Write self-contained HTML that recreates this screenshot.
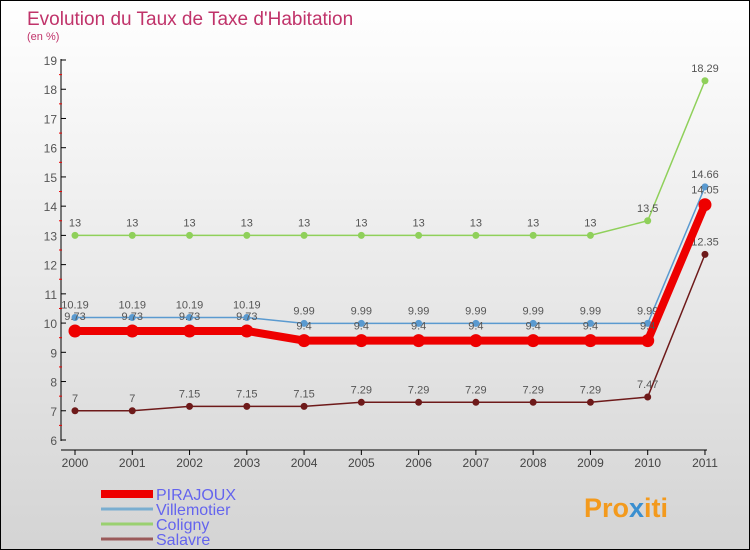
<!DOCTYPE html>
<html><head><meta charset="utf-8"><style>
body{margin:0}
#c{position:relative;width:748px;height:548px;border:1px solid #000;background:linear-gradient(#fff,#d4d4d4);font-family:"Liberation Sans",sans-serif;overflow:hidden}
</style></head><body>
<div id="c">
<svg id="s" width="748" height="548" style="position:absolute;left:0;top:0">
<text x="26" y="24" font-size="19" fill="#c0336a">Evolution du Taux de Taxe d'Habitation</text>
<text x="26" y="39" font-size="11" fill="#c0336a">(en %)</text>
<g id="g"></g>
<text x="583" y="516" font-size="27" font-weight="bold" fill="#f39a1d">Pro<tspan fill="#3a8fd0">x</tspan>iti</text>
</svg>
</div>
<script>
const years=["2000","2001","2002","2003","2004","2005","2006","2007","2008","2009","2010","2011"];
const pirajoux=[9.73,9.73,9.73,9.73,9.4,9.4,9.4,9.4,9.4,9.4,9.4,14.05];
const villemotier=[10.19,10.19,10.19,10.19,9.99,9.99,9.99,9.99,9.99,9.99,9.99,14.66];
const coligny=[13,13,13,13,13,13,13,13,13,13,13.5,18.29];
const salavre=[7,7,7.15,7.15,7.15,7.29,7.29,7.29,7.29,7.29,7.47,12.35];
const yTicks=[6,7,8,9,10,11,12,13,14,15,16,17,18,19];
const NS="http://www.w3.org/2000/svg",g=document.getElementById('g');
const X=i=>74+i*57.27, Y=v=>439-(v-6)*29.23;
function el(t,a){const e=document.createElementNS(NS,t);for(const k in a)e.setAttribute(k,a[k]);g.appendChild(e);return e;}
let e=el('line',{x1:60,y1:58,x2:60,y2:440,stroke:'#000'});

e=el('line',{x1:60,y1:449,x2:706,y2:449,stroke:'#000'});

yTicks.forEach(v=>{
 let t=el('line',{x1:60,y1:Y(v),x2:65,y2:Y(v),stroke:'#000'});
 
 if(v<19){t=el('line',{x1:58,y1:Y(v+0.5),x2:61,y2:Y(v+0.5),stroke:'#e00'});}
 t=el('text',{x:56,y:Y(v)+5,'font-size':12,fill:'#555','text-anchor':'end'});t.textContent=v;
 
});
years.forEach((y,i)=>{
 let t=el('line',{x1:X(i),y1:449,x2:X(i),y2:454,stroke:'#000'});
 
 t=el('text',{x:X(i),y:466,'font-size':12,fill:'#444','text-anchor':'middle'});t.textContent=y;
 
});
function series(d,col,w,r,name,dy){
 let p=el('polyline',{points:d.map((v,i)=>X(i)+','+Y(v)).join(' '),fill:'none',stroke:col,'stroke-width':w});
 
 d.forEach((v,i)=>{
  let c=el('circle',{cx:X(i),cy:Y(v),r:r,fill:col});
  
  let t=el('text',{x:X(i),y:Y(v)+dy,'font-size':11,fill:'#555','text-anchor':'middle'});t.textContent=v;
  
 });
}
series(salavre,'#6e1a1a',1.5,3.5,'salavre',-9);
series(coligny,'#8fd05a',1.5,3.5,'coligny',-9);
series(villemotier,'#5a9ad0',1.5,3.5,'villemotier',-9);
series(pirajoux,'#ee0000',8,6.5,'pirajoux',-11);
const leg=[['PIRAJOUX','#ee0000',8],['Villemotier','#7aaed0',3],['Coligny','#9ad070',3],['Salavre','#9a5a5a',3]];
leg.forEach((l,i)=>{
 let y=493+i*15;
 let t=el('line',{x1:100,y1:y,x2:152,y2:y,stroke:l[1],'stroke-width':l[2]});
 
 t=el('text',{x:155,y:y+6,'font-size':16,fill:'#6464ee'});t.textContent=l[0];
 
});
</script>
</body></html>
